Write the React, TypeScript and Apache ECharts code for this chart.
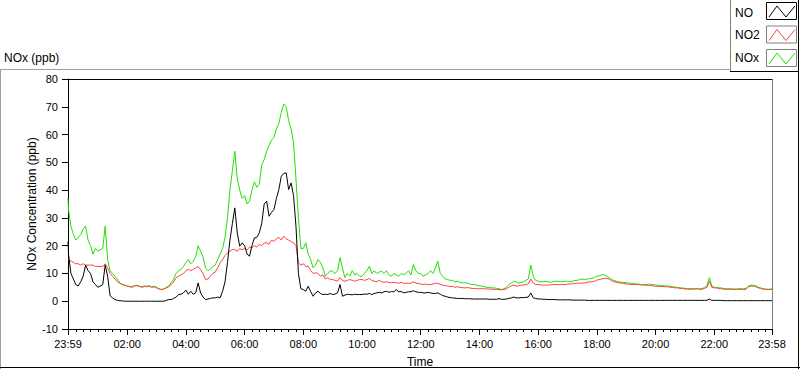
import React, { useEffect, useRef } from 'react';
import * as echarts from 'echarts';

// x axis tick positions (minutes since 00:00) and their labels
const tickMinutes = [-1, 120, 240, 360, 480, 600, 720, 840, 960, 1080, 1200, 1320, 1438];
const tickLabels = ['23:59', '02:00', '04:00', '06:00', '08:00', '10:00', '12:00', '14:00', '16:00', '18:00', '20:00', '22:00', '23:58'];
const minorMinutes = Array.from({ length: 95 }, (_, i) => (i + 1) * 15).filter((m) => m % 120 !== 0);

// sample times: 23:59, then every 5 minutes from 00:00 to 23:55, then 23:58
const minutes = [-1, ...Array.from({ length: 288 }, (_, i) => i * 5), 1438];

// NOx (green), one row per hour (12 values, 5 min apart)
const nox = [
  37,
  33, 27, 24, 22, 23, 24, 26, 27, 22, 20, 17, 19,
  18, 18.5, 19, 27, 15, 11, 10, 9, 8, 6.6, 6, 5.8,
  5.5, 5.3, 5.2, 5.6, 5.8, 5.4, 5.2, 5.5, 5.4, 5.6, 5.2, 5.4,
  5, 4.5, 4.2, 4.5, 5, 5.5, 6.7, 8, 10, 11, 11.4, 12.5,
  14, 15, 13.5, 14.4, 16, 20, 18, 16, 12, 11, 11.5, 12.5,
  13, 15, 17, 19, 23, 30, 40, 47, 54, 44, 40, 37,
  38, 35, 36, 40, 43, 41, 42, 49, 51, 54, 56, 58,
  59, 62, 64, 68, 71, 70, 65, 62, 57, 44, 30, 19,
  19, 21, 17, 15, 12, 13, 15, 14, 12, 9, 10, 11,
  10.8, 10, 11, 15.7, 12, 8.5, 10, 9, 11, 9.5, 10, 9,
  9, 10, 11, 12.6, 10, 11, 10, 10.5, 10.8, 10, 11, 9.5,
  9, 10, 9.5, 9, 10, 9.5, 10, 11, 9.5, 13.2, 11, 10,
  10, 9, 9.5, 10, 11, 10, 12, 14.4, 10, 9, 8, 7.8,
  7.5, 7.5, 7, 7.2, 6.8, 6.6, 6.6, 6.5, 6.2, 6, 6, 5.8,
  5.5, 5.5, 5.2, 5, 5, 4.8, 4.8, 4.6, 4.5, 4.2, 4.5, 5,
  6, 6.5, 7.2, 7, 6.5, 6.8, 7, 7.5, 8, 13, 9, 7.5,
  7.2, 7, 7, 7.2, 7, 6.8, 7, 7.2, 7.2, 7, 7, 7.2,
  7.2, 7, 7.2, 7.5, 7.5, 7.8, 8, 7.8, 8, 8.2, 8.2, 8.5,
  9, 9.2, 9.5, 9.5, 9, 8.5, 7.8, 7.5, 7.2, 7, 6.8, 6.8,
  6.6, 6.5, 6.5, 6.4, 6.2, 6.2, 6, 6, 6, 6.2, 6, 6,
  5.8, 5.8, 5.6, 5.6, 5.5, 5.5, 5.3, 5.3, 5, 5, 4.8, 4.8,
  4.6, 4.6, 4.5, 4.5, 4.6, 4.6, 4.5, 4.5, 5, 5.5, 8.5, 5.5,
  5, 5, 4.8, 4.8, 4.5, 4.5, 4.5, 4.5, 4.4, 4.4, 4.5, 4.5,
  4.5, 4.6, 5.5, 5.8, 5.8, 5.6, 5, 4.8, 4.5, 4.4, 4.3, 4.4,
  4.5,
];

// NO2 (red)
const no2 = [
  15,
  15, 14.5, 14, 13.5, 13.5, 13, 13.5, 13, 13, 13, 13, 12.5,
  12.5, 12.5, 12.5, 13.5, 12, 10, 9, 8, 7, 6.5, 6, 5.8,
  5.4, 5.2, 5, 5.5, 5.6, 5.3, 5, 5.3, 5.2, 5.4, 5, 5.2,
  4.8, 4.4, 4.2, 4.4, 4.8, 5.2, 6, 7, 8.5, 9, 9.5, 10,
  11, 11.5, 11, 11.5, 12, 12.5, 11.4, 10, 7.8, 8, 9, 10,
  10.5, 12, 13.8, 15, 16.5, 17.4, 18, 18.6, 18.6, 18, 19, 18.5,
  19, 18.5, 19.5, 19.3, 20, 19.5, 20.5, 20, 21, 21, 20.5, 22,
  21.5, 22.5, 23, 22, 23.4, 22.5, 22, 21.5, 21, 20, 13.8, 13,
  13.5, 12.5, 12.6, 11, 10, 10.2, 10, 9, 9.5, 8, 8.5, 7.8,
  7.8, 7.5, 7.2, 8.5, 7.5, 7.2, 7.5, 7.8, 7.5, 7.2, 7.5, 7.8,
  7.8, 7.5, 7.8, 8.2, 7.5, 7.2, 7, 7.5, 7, 6.8, 7, 6.8,
  6.6, 6.8, 6.6, 6.5, 6.8, 6.4, 6.5, 6.4, 6.5, 7, 6.5, 6.4,
  6.2, 6, 6.2, 6, 6, 6.2, 6.4, 6.5, 6, 5.8, 5.6, 5.5,
  5.3, 5.4, 5, 5.2, 5, 4.9, 4.8, 4.9, 4.8, 4.6, 4.6, 4.5,
  4.5, 4.5, 4.5, 4.4, 4.4, 4.3, 4.3, 4.2, 4.2, 4.1, 4.2, 4.5,
  5, 5.5, 5.8, 5.5, 5.5, 5.8, 5.8, 6, 6.2, 8, 6.5, 6,
  6, 5.9, 5.8, 5.8, 5.8, 5.9, 6, 6, 6, 6, 6, 6,
  6.2, 6.2, 6.3, 6.4, 6.5, 6.5, 6.5, 6.6, 6.8, 7, 7, 7.2,
  7.6, 7.8, 8, 8.2, 8.2, 8, 7.4, 7, 6.8, 6.6, 6.5, 6.4,
  6.2, 6.2, 6, 6, 6, 6, 5.9, 5.8, 5.8, 5.7, 5.6, 5.5,
  5.4, 5.4, 5.3, 5.3, 5.2, 5.2, 5, 5, 4.8, 4.8, 4.6, 4.6,
  4.4, 4.4, 4.3, 4.3, 4.4, 4.4, 4.3, 4.3, 4.6, 5, 7.2, 5,
  4.8, 4.8, 4.5, 4.5, 4.3, 4.3, 4.3, 4.3, 4.2, 4.2, 4.3, 4.3,
  4.2, 4.3, 5.2, 5.4, 5.4, 5.2, 4.8, 4.6, 4.3, 4.2, 4.2, 4.2,
  4.3,
];

// NO (black)
const no = [
  21.5,
  17, 10, 8, 6, 5.5, 7, 9, 13, 11, 10, 7, 6,
  5, 5.5, 6, 13, 9, 2, 1.2, 0.6, 0.3, 0.2, 0.1, 0,
  0, 0, 0, 0, 0, 0, 0, 0, 0, 0, 0, 0,
  0, 0, 0, 0, 0.3, 0.6, 0.6, 1, 1.5, 2.4, 2.5, 3,
  4, 2.5, 3.6, 2.5, 3, 6.6, 3, 1.5, 0.6, 0.8, 1, 1.2,
  1.2, 1.5, 1.2, 3.6, 7, 14, 22, 28, 33.6, 24.6, 19.8, 21,
  20, 17, 16.2, 20, 22.8, 23, 24.6, 28, 35, 36, 30.6, 32,
  33, 37, 40.2, 45, 46, 46.2, 40.2, 42.6, 38, 27, 10, 4.5,
  4.2, 3.6, 5.4, 3.5, 1.8, 3, 3.6, 2.8, 2.4, 2.5, 2.4, 2.8,
  2.4, 2.6, 3, 6, 1.8, 2.2, 2.5, 2.4, 2.3, 2.5, 2.4, 2.4,
  2.4, 2.6, 2.5, 2.8, 2.4, 2.8, 3, 3.2, 3, 3.4, 3.6, 3.2,
  3.5, 3.4, 4.2, 3.4, 3.5, 3, 3.2, 3.4, 3.4, 3.8, 3.4, 3.2,
  3.2, 3, 3, 3.2, 3, 2.8, 2.8, 3, 2.5, 2, 1.8, 1.5,
  1.3, 1.2, 1.1, 1, 1, 1, 0.9, 0.9, 0.9, 0.8, 0.8, 0.8,
  0.8, 0.8, 0.8, 0.8, 0.7, 0.7, 0.7, 0.7, 0.9, 0.7, 0.7, 0.8,
  1, 1.2, 1.5, 1.2, 1.2, 1.3, 1.3, 1.4, 1.5, 3, 1.2, 1,
  0.8, 0.8, 0.7, 0.7, 0.6, 0.6, 0.6, 0.6, 0.5, 0.5, 0.5, 0.5,
  0.5, 0.5, 0.4, 0.4, 0.4, 0.4, 0.4, 0.4, 0.3, 0.3, 0.3, 0.3,
  0.3, 0.3, 0.3, 0.3, 0.3, 0.3, 0.3, 0.3, 0.3, 0.3, 0.3, 0.3,
  0.3, 0.3, 0.3, 0.3, 0.3, 0.3, 0.3, 0.3, 0.3, 0.3, 0.3, 0.3,
  0.3, 0.3, 0.3, 0.3, 0.3, 0.3, 0.3, 0.3, 0.3, 0.3, 0.3, 0.3,
  0.3, 0.3, 0.3, 0.3, 0.3, 0.3, 0.3, 0.3, 0.3, 0.3, 0.8, 0.3,
  0.3, 0.3, 0.3, 0.3, 0.2, 0.2, 0.2, 0.2, 0.2, 0.2, 0.2, 0.2,
  0.2, 0.2, 0.2, 0.2, 0.2, 0.2, 0.2, 0.2, 0.2, 0.2, 0.2, 0.2,
  0.2,
];

const seriesNames = ['NO', 'NO2', 'NOx'];
const seriesColors = ['#000000', '#ff4040', '#22e000'];

const FONT = '"Liberation Sans", Arial, sans-serif';

export default function App() {
  const ref = useRef<HTMLDivElement>(null);

  useEffect(() => {
    if (!ref.current) return;
    const chart = echarts.init(ref.current, undefined, { renderer: 'svg' });

    const toPairs = (vals: number[]) => minutes.map((m, i) => [m, vals[i]]);

    const legendBoxes = [2, 25.5, 49];
    const legendTextY = [14, 36, 59];
    const legendGraphics: any[] = [];
    seriesNames.forEach((name, i) => {
      const by = legendBoxes[i];
      legendGraphics.push({
        type: 'text',
        left: 735,
        top: legendTextY[i] - 7,
        style: { text: name, fontSize: 12, fontFamily: FONT, fill: '#000' },
      });
      legendGraphics.push({
        type: 'rect',
        shape: { x: 766.5, y: by + 0.5, width: 30, height: 17 },
        style: { fill: '#fff', stroke: i === 0 ? '#000' : '#808080', lineWidth: 1 },
      });
      legendGraphics.push({
        type: 'polyline',
        shape: { points: [[769, by + 15], [777, by + 4], [786, by + 15], [795, by + 4]] },
        style: { stroke: seriesColors[i], lineWidth: 1, fill: null },
      });
    });

    const frame = (x1: number, y1: number, x2: number, y2: number, color: string) => ({
      type: 'line',
      shape: { x1, y1, x2, y2 },
      style: { stroke: color, lineWidth: 1 },
      silent: true,
    });

    chart.setOption({
      animation: false,
      backgroundColor: '#ffffff',
      textStyle: { fontFamily: FONT },
      title: {
        text: 'NOx (ppb)',
        left: 4,
        top: 52,
        padding: 0,
        textStyle: { fontSize: 12, fontWeight: 'normal', color: '#000', fontFamily: FONT },
      },
      grid: { left: 68, top: 79, right: 28, bottom: 40, show: false, containLabel: false, outerBoundsMode: 'none' },
      xAxis: [
        {
          type: 'value',
          min: -1,
          max: 1438,
          position: 'bottom',
          offset: 0,
          axisLine: { show: true, onZero: false, lineStyle: { color: '#000' } },
          axisTick: { show: true, customValues: tickMinutes, length: 6, lineStyle: { color: '#000' } },
          axisLabel: {
            customValues: tickMinutes,
            formatter: (v: number) => {
              const idx = tickMinutes.indexOf(v);
              return idx >= 0 ? tickLabels[idx] : '';
            },
            margin: 9,
            fontSize: 11,
            color: '#000',
            fontFamily: FONT,
          },
          splitLine: { show: false },
          name: 'Time',
          nameLocation: 'middle',
          nameGap: 27,
          nameMoveOverlap: false,
          nameTextStyle: { fontSize: 12, color: '#000', fontFamily: FONT },
        },
        {
          type: 'value',
          min: -1,
          max: 1438,
          position: 'bottom',
          offset: 0,
          axisLine: { show: false, onZero: false },
          axisTick: { show: true, customValues: minorMinutes, length: 3, lineStyle: { color: '#000' } },
          axisLabel: { show: false },
          splitLine: { show: false },
        },
      ],
      yAxis: {
        type: 'value',
        min: -10,
        max: 80,
        interval: 10,
        axisLine: { show: true, onZero: false, lineStyle: { color: '#000' } },
        axisTick: { show: true, length: 6, lineStyle: { color: '#000' } },
        axisLabel: { fontSize: 11, margin: 10, color: '#000', fontFamily: FONT },
        splitLine: { show: false },
        name: 'NOx Concentration (ppb)',
        nameLocation: 'middle',
        nameGap: 30,
        nameRotate: 90,
        nameMoveOverlap: false,
        nameTextStyle: { fontSize: 12, color: '#000', fontFamily: FONT },
      },
      series: [
        {
          name: 'NOx',
          type: 'line',
          data: toPairs(nox),
          showSymbol: false,
          symbol: 'none',
          lineStyle: { color: seriesColors[2], width: 1 },
          itemStyle: { color: seriesColors[2] },
        },
        {
          name: 'NO2',
          type: 'line',
          data: toPairs(no2),
          showSymbol: false,
          symbol: 'none',
          lineStyle: { color: seriesColors[1], width: 1 },
          itemStyle: { color: seriesColors[1] },
        },
        {
          name: 'NO',
          type: 'line',
          data: toPairs(no),
          showSymbol: false,
          symbol: 'none',
          lineStyle: { color: seriesColors[0], width: 1 },
          itemStyle: { color: seriesColors[0] },
        },
      ],
      graphic: [
        frame(0, 69.5, 730, 69.5, '#a0a0a0'),
        frame(0.5, 69, 0.5, 369, '#a0a0a0'),
        frame(0, 367.5, 800, 367.5, '#000'),
        frame(798.5, 0, 798.5, 369, '#000'),
        frame(730.5, 0, 730.5, 72, '#808080'),
        frame(730, 71.5, 799, 71.5, '#000'),
        frame(68, 79.5, 772, 79.5, '#000'),
        frame(772.5, 79, 772.5, 329, '#808080'),
        ...legendGraphics,
      ],
    });

    return () => chart.dispose();
  }, []);

  return <div ref={ref} style={{ position: 'absolute', left: 0, top: 0, width: 800, height: 369 }} />;
}
